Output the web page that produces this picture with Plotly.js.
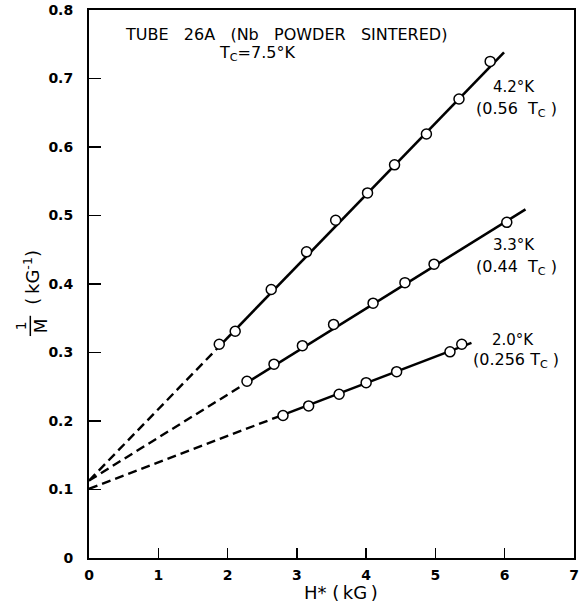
<!DOCTYPE html>
<html>
<head>
<meta charset="utf-8">
<script src="https://cdn.plot.ly/plotly-3.0.1.min.js"></script>
<style>html,body{margin:0;padding:0;background:#fff;}#chart{width:579px;height:607px;}</style>
</head>
<body>
<div id="chart"></div>
<script>
// ---- data ----
var h42 = [1.88, 2.11, 2.63, 3.14, 3.56, 4.02, 4.41, 4.87, 5.34, 5.79];
var m42 = [0.312, 0.331, 0.392, 0.447, 0.493, 0.533, 0.574, 0.619, 0.670, 0.725];
var h33 = [2.28, 2.67, 3.08, 3.53, 4.10, 4.56, 4.98, 6.03];
var m33 = [0.258, 0.283, 0.310, 0.341, 0.372, 0.402, 0.429, 0.490];
var h20 = [2.80, 3.17, 3.61, 4.00, 4.44, 5.21, 5.38];
var m20 = [0.208, 0.222, 0.239, 0.256, 0.272, 0.301, 0.312];

// fitted lines: [intercept point, start of solid part, end of solid part]
var fit42X = [0, 1.88, 5.99];
var fit42Y = [0.113, 0.309, 0.738];
var fit33X = [0, 2.28, 6.30];
var fit33Y = [0.113, 0.256, 0.509];
var fit20X = [0, 2.80, 5.52];
var fit20Y = [0.101, 0.209, 0.314];

var tempLabels = ['4.2°K', '3.3°K', '2.0°K'];
var ratioLabels = ['(0.56\u00a0\u00a0T<sub>C</sub>\u00a0)', '(0.44\u00a0\u00a0T<sub>C</sub>\u00a0)', '(0.256\u00a0T<sub>C</sub>\u00a0)'];

var xTicks = [0, 1, 2, 3, 4, 5, 6, 7];
var xTickText = ['0', '1', '2', '3', '4', '5', '6', '7'];
var yTicks = [0, 0.1, 0.2, 0.3, 0.4, 0.5, 0.6, 0.7, 0.8];
var yTickText = ['0', '0.1', '0.2', '0.3', '0.4', '0.5', '0.6', '0.7', '0.8'];

var FONT = 'DejaVu Sans, sans-serif';
var traces = [];
function addSeries(fx, fy, hx, my) {
  traces.push({x: fx.slice(0, 2), y: fy.slice(0, 2), mode: 'lines',
    line: {color: '#000', width: 2.4, dash: '9px,5px'}, hoverinfo: 'skip', showlegend: false});
  traces.push({x: fx.slice(1, 3), y: fy.slice(1, 3), mode: 'lines',
    line: {color: '#000', width: 2.6}, showlegend: false});
  traces.push({x: hx, y: my, mode: 'markers',
    marker: {symbol: 'circle', size: 10, color: '#fff', line: {color: '#000', width: 1.5}},
    showlegend: false, cliponaxis: false});
}
addSeries(fit42X, fit42Y, h42, m42);
addSeries(fit33X, fit33Y, h33, m33);
addSeries(fit20X, fit20Y, h20, m20);

var labelPos = [[6.13, 0.687, 6.17, 0.655], [6.13, 0.457, 6.17, 0.424], [6.12, 0.318, 6.17, 0.288]];
var annotations = [
  {xref: 'paper', yref: 'paper', x: 0.407, y: 0.955, xanchor: 'center', yanchor: 'middle', showarrow: false,
   text: 'TUBE\u00a0\u00a0 26A\u00a0\u00a0 (Nb\u00a0\u00a0 POWDER\u00a0\u00a0 SINTERED)', font: {family: FONT, size: 16, color: '#000'}},
  {xref: 'paper', yref: 'paper', x: 0.346, y: 0.92, xanchor: 'center', yanchor: 'middle', showarrow: false,
   text: 'T<sub>C</sub>=7.5°K', font: {family: FONT, size: 16, color: '#000'}},
  {xref: 'paper', yref: 'paper', x: 0.52, y: -0.063, xanchor: 'center', yanchor: 'middle', showarrow: false,
   text: 'H*\u00a0(\u2009kG\u2009)', font: {family: FONT, size: 18, color: '#000'}},
  {xref: 'paper', yref: 'paper', x: -0.141, y: 0.424, xanchor: 'center', yanchor: 'middle', showarrow: false,
   textangle: -90, text: '1', font: {family: FONT, size: 14, color: '#000'}},
  {xref: 'paper', yref: 'paper', x: -0.1, y: 0.424, xanchor: 'center', yanchor: 'middle', showarrow: false,
   textangle: -90, text: 'M', font: {family: FONT, size: 17, color: '#000'}},
  {xref: 'paper', yref: 'paper', x: -0.118, y: 0.513, xanchor: 'center', yanchor: 'middle', showarrow: false,
   textangle: -90, text: '(\u2009kG<sup>-1</sup>)', font: {family: FONT, size: 18, color: '#000'}}
];
for (var i = 0; i < tempLabels.length; i++) {
  annotations.push({x: labelPos[i][0], y: labelPos[i][1], xanchor: 'center', yanchor: 'middle', showarrow: false,
    text: tempLabels[i], font: {family: FONT, size: 15, color: '#000'}});
  annotations.push({x: labelPos[i][2], y: labelPos[i][3], xanchor: 'center', yanchor: 'middle', showarrow: false,
    text: ratioLabels[i], font: {family: FONT, size: 16, color: '#000'}});
}

var layout = {
  width: 579, height: 607,
  margin: {l: 89, r: 5, t: 10, b: 49},
  paper_bgcolor: '#fff', plot_bgcolor: '#fff',
  showlegend: false,
  xaxis: {range: [0, 7], tickvals: xTicks, ticktext: xTickText, ticks: 'inside', ticklen: 10, tickwidth: 1.5,
    tickcolor: '#000', showline: true, linecolor: '#000', linewidth: 2, mirror: true, showgrid: false, zeroline: false,
    tickfont: {family: FONT, size: 14, color: '#000', weight: 600}, ticklabelstandoff: 3, fixedrange: true},
  yaxis: {range: [0, 0.8], tickvals: yTicks, ticktext: yTickText, ticks: 'inside', ticklen: 12, tickwidth: 1.5,
    tickcolor: '#000', showline: true, linecolor: '#000', linewidth: 2, mirror: true, showgrid: false, zeroline: false,
    tickfont: {family: FONT, size: 14, color: '#000', weight: 600}, ticklabelstandoff: 11, fixedrange: true},
  shapes: [{type: 'line', xref: 'paper', yref: 'paper', x0: -0.121, x1: -0.121, y0: 0.405, y1: 0.442,
    line: {color: '#000', width: 1.5}}],
  annotations: annotations
};
Plotly.newPlot('chart', traces, layout, {displayModeBar: false, staticPlot: true});
</script>
</body>
</html>
